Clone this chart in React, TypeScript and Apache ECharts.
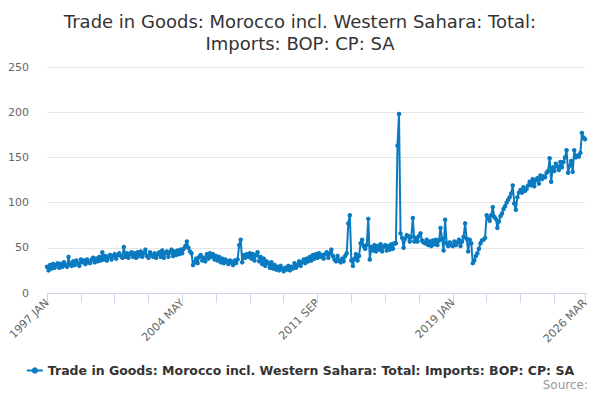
import React, { useEffect, useRef } from "react";
import * as echarts from "echarts";

const MONTHS = ["JAN", "FEB", "MAR", "APR", "MAY", "JUN", "JUL", "AUG", "SEP", "OCT", "NOV", "DEC"];

const v1997 = [29, 25, 31, 27, 32, 28, 31, 33, 28, 32, 29, 34];
const v1998 = [31, 29, 40, 32, 30, 35, 31, 36, 33, 30, 37, 34];
const v1999 = [36, 32, 37, 34, 33, 37, 39, 34, 38, 35, 40, 36];
const v2000 = [45, 37, 41, 36, 40, 42, 37, 41, 43, 38, 42, 44];
const v2001 = [41, 39, 51, 40, 44, 39, 43, 45, 40, 44, 39, 45];
const v2002 = [41, 46, 40, 44, 48, 41, 39, 45, 42, 40, 44, 39];
const v2003 = [43, 45, 40, 47, 39, 44, 46, 40, 45, 48, 41, 46];
const v2004 = [42, 47, 43, 48, 44, 49, 52, 57, 50, 46, 44, 31];
const v2005 = [34, 38, 33, 40, 42, 36, 39, 35, 43, 38, 44, 40];
const v2006 = [43, 37, 41, 36, 40, 34, 38, 33, 37, 35, 32, 36];
const v2007 = [34, 31, 36, 33, 37, 53, 59, 34, 42, 39, 43, 40];
const v2008 = [44, 38, 43, 36, 42, 45, 35, 40, 32, 38, 30, 35];
const v2009 = [33, 28, 34, 27, 31, 26, 29, 25, 30, 27, 24, 28];
const v2010 = [26, 30, 25, 29, 27, 33, 28, 31, 35, 30, 34, 37];
const v2011 = [33, 38, 35, 40, 36, 42, 38, 43, 39, 44, 40, 42];
const v2012 = [38, 43, 45, 39, 44, 48, 41, 37, 35, 41, 36, 34];
const v2013 = [38, 35, 41, 44, 77, 86, 36, 30, 38, 43, 36, 41];
const v2014 = [55, 59, 52, 49, 53, 82, 37, 51, 47, 53, 46, 52];
const v2015 = [48, 54, 46, 51, 53, 47, 52, 48, 54, 49, 55, 55];
const v2016 = [163, 198, 66, 61, 50, 60, 64, 63, 57, 62, 83, 57];
const v2017 = [61, 57, 63, 66, 58, 56, 55, 59, 53, 57, 52, 58];
const v2018 = [54, 59, 53, 58, 72, 60, 47, 81, 55, 52, 56, 53];
const v2019 = [52, 57, 53, 56, 59, 52, 57, 62, 77, 60, 46, 59];
const v2020 = [55, 33, 36, 41, 44, 49, 55, 58, 59, 61, 86, 83];
const v2021 = [80, 86, 95, 84, 82, 72, 79, 85, 88, 93, 96, 100];
const v2022 = [103, 106, 110, 119, 99, 92, 106, 111, 114, 111, 117, 113];
const v2023 = [115, 119, 123, 119, 126, 118, 125, 127, 121, 130, 126, 129];
const v2024 = [128, 133, 135, 149, 123, 139, 135, 143, 140, 136, 145, 139];
const v2025 = [145, 150, 158, 133, 141, 146, 134, 158, 150, 152, 151, 155];
const v2026 = [177, 172, 170];

const yearly = [
  v1997, v1998, v1999, v2000, v2001, v2002, v2003, v2004, v2005, v2006,
  v2007, v2008, v2009, v2010, v2011, v2012, v2013, v2014, v2015, v2016,
  v2017, v2018, v2019, v2020, v2021, v2022, v2023, v2024, v2025, v2026,
];

const categories: string[] = [];
const values: number[] = [];
yearly.forEach((arr, yi) => {
  arr.forEach((v, mi) => {
    categories.push(`${1997 + yi} ${MONTHS[mi]}`);
    values.push(v);
  });
});

const SERIES_NAME = "Trade in Goods: Morocco incl. Western Sahara: Total: Imports: BOP: CP: SA";
const TITLE = "Trade in Goods: Morocco incl. Western Sahara: Total:\nImports: BOP: CP: SA";
const LAST = categories.length - 1;
const FONT = "DejaVu Sans";

export default function App() {
  const ref = useRef<HTMLDivElement>(null);
  useEffect(() => {
    if (!ref.current) return;
    const chart = echarts.init(ref.current, undefined, { renderer: "svg" });
    chart.setOption({
      animation: false,
      backgroundColor: "#ffffff",
      title: {
        text: TITLE,
        left: "center",
        top: 5,
        textStyle: {
          fontFamily: FONT,
          fontSize: 18,
          fontWeight: "normal",
          color: "#333333",
          lineHeight: 22,
        },
      },
      grid: { left: 47, right: 15, top: 67, bottom: 107, containLabel: false },
      xAxis: {
        type: "category",
        data: categories,
        boundaryGap: false,
        axisLine: { lineStyle: { color: "#ccd6eb" } },
        axisTick: {
          length: 10,
          interval: (i: number) => i % 22 === 0 || i === LAST,
          lineStyle: { color: "#ccd6eb" },
        },
        axisLabel: {
          interval: (i: number) => i % 88 === 0 || i === LAST,
          rotate: 45,
          color: "#666666",
          fontSize: 11,
          fontFamily: FONT,
          margin: 8,
        },
        splitLine: { show: false },
      },
      yAxis: {
        type: "value",
        min: 0,
        max: 250,
        interval: 50,
        axisLine: { show: false },
        axisTick: { show: false },
        axisLabel: { color: "#666666", fontSize: 11, fontFamily: FONT, margin: 18 },
        splitLine: { lineStyle: { color: "#e6e6e6" } },
      },
      legend: {
        bottom: 18,
        left: "center",
        itemWidth: 16,
        itemHeight: 8,
        itemGap: 4,
        textStyle: { fontFamily: FONT, fontSize: 12.5, fontWeight: "bold", color: "#333333" },
        data: [SERIES_NAME],
      },
      graphic: [
        {
          type: "text",
          right: 12,
          top: 379,
          style: { text: "Source:", fill: "#999999", fontSize: 12, fontFamily: FONT },
        },
      ],
      series: [
        {
          name: SERIES_NAME,
          type: "line",
          data: values,
          color: "#0a7bc1",
          symbol: "circle",
          symbolSize: 4.5,
          showAllSymbol: true,
          lineStyle: { width: 2, color: "#0a7bc1" },
          itemStyle: { color: "#0a7bc1" },
        },
      ],
    });
    return () => chart.dispose();
  }, []);
  return <div ref={ref} style={{ width: 600, height: 400, margin: -8 }} />;
}
